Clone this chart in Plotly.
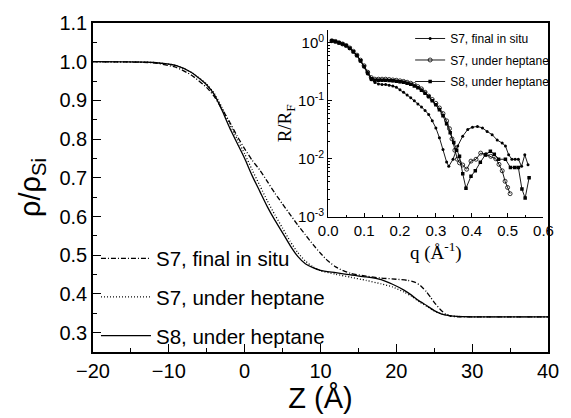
import plotly.graph_objects as go

# ---- density profiles (main panel) ----
z_s7_final = [-20, -12, -9, -7, -5, -4, -3, -2, -1, 0, 1, 2, 3, 4, 5, 6, 7, 8, 9, 10, 11, 12, 13, 14,
              16, 18, 20, 21.5, 22.5, 23.2, 24, 24.5, 25, 25.8, 26.5, 27.1, 28, 30, 40]
rho_s7_final = [1.0, 0.997, 0.985, 0.965, 0.933, 0.91, 0.878, 0.845, 0.808, 0.775, 0.745, 0.72, 0.69,
                0.66, 0.632, 0.605, 0.578, 0.553, 0.528, 0.505, 0.485, 0.47, 0.46, 0.453, 0.446, 0.441,
                0.438, 0.435, 0.43, 0.421, 0.405, 0.392, 0.378, 0.36, 0.348, 0.343, 0.341, 0.341, 0.341]

z_s7_hept = [-20, -12, -9, -7, -5, -4, -3, -2, -1, 0, 1, 2, 3, 4, 5, 6, 7, 8, 9, 10, 12, 14, 16, 18,
             19.5, 21, 22, 23, 24, 25, 26, 27, 28, 30, 40]
rho_s7_hept = [1.0, 0.998, 0.99, 0.972, 0.942, 0.918, 0.882, 0.84, 0.80, 0.762, 0.72, 0.68, 0.64,
               0.604, 0.57, 0.536, 0.507, 0.485, 0.47, 0.46, 0.451, 0.443, 0.435, 0.426, 0.418, 0.405,
               0.394, 0.38, 0.368, 0.356, 0.348, 0.344, 0.342, 0.341, 0.341]

z_s8_hept = [-20, -12, -9, -7, -5, -4, -3, -2, -1, 0, 1, 2, 3, 4, 5, 6, 7, 8, 9, 10, 12, 14, 16, 18,
             19.5, 21, 22, 23, 24, 25, 26, 27, 28, 30, 40]
rho_s8_hept = [1.0, 0.998, 0.99, 0.972, 0.94, 0.915, 0.875, 0.83, 0.79, 0.75, 0.705, 0.665, 0.625,
               0.59, 0.558, 0.525, 0.497, 0.478, 0.468, 0.461, 0.455, 0.449, 0.444, 0.437, 0.425,
               0.41, 0.397, 0.382, 0.37, 0.357, 0.348, 0.344, 0.342, 0.341, 0.341]

# ---- normalised reflectivity (inset) ----
q_s7_final = [0.01, 0.02, 0.03, 0.04, 0.05, 0.06, 0.07, 0.08, 0.09, 0.10, 0.11, 0.12, 0.13, 0.14,
              0.15, 0.16, 0.17, 0.18, 0.19, 0.20, 0.21, 0.22, 0.23, 0.24, 0.25, 0.26, 0.27, 0.28,
              0.29, 0.30, 0.31, 0.32, 0.33, 0.336, 0.348, 0.361, 0.375, 0.389, 0.402, 0.416, 0.43,
              0.443, 0.457, 0.471, 0.485, 0.494, 0.503, 0.512, 0.521, 0.53, 0.539, 0.548, 0.557]
r_s7_final = [1.08, 1.05, 1.0, 0.95, 0.89, 0.80, 0.70, 0.60, 0.48, 0.38, 0.29, 0.23, 0.205, 0.195,
              0.19, 0.19, 0.185, 0.18, 0.17, 0.155, 0.14, 0.125, 0.112, 0.10, 0.088, 0.078, 0.068,
              0.058, 0.045, 0.034, 0.023, 0.0145, 0.0088, 0.0074, 0.0098, 0.0166, 0.0245, 0.032,
              0.035, 0.036, 0.034, 0.0295, 0.026, 0.021, 0.0186, 0.0166, 0.0117, 0.0098, 0.0098,
              0.0098, 0.0074, 0.0117, 0.0079]

q_s7_hept = [0.01, 0.02, 0.03, 0.04, 0.05, 0.06, 0.07, 0.08, 0.09, 0.10, 0.11, 0.12, 0.13, 0.14,
             0.15, 0.16, 0.17, 0.18, 0.19, 0.20, 0.21, 0.22, 0.23, 0.24, 0.25, 0.26, 0.27, 0.28,
             0.29, 0.30, 0.31, 0.32, 0.33, 0.338, 0.345, 0.353, 0.36, 0.366, 0.375, 0.386, 0.398,
             0.412, 0.425, 0.44, 0.453, 0.467, 0.476, 0.485, 0.493, 0.50, 0.507]
r_s7_hept = [1.08, 1.05, 1.0, 0.95, 0.89, 0.81, 0.71, 0.61, 0.50, 0.40, 0.31, 0.25, 0.235, 0.235,
             0.235, 0.235, 0.232, 0.228, 0.225, 0.22, 0.215, 0.208, 0.20, 0.19, 0.175, 0.16, 0.14,
             0.12, 0.105, 0.09, 0.075, 0.06, 0.045, 0.033, 0.022, 0.014, 0.0098, 0.0085, 0.0078,
             0.0066, 0.0091, 0.0098, 0.0125, 0.0118, 0.011, 0.010, 0.008, 0.0062, 0.0041, 0.0032,
             0.0025]

q_s8_hept = [0.01, 0.02, 0.03, 0.04, 0.05, 0.06, 0.07, 0.08, 0.09, 0.10, 0.11, 0.12, 0.13, 0.14,
             0.15, 0.16, 0.17, 0.18, 0.19, 0.20, 0.21, 0.22, 0.23, 0.24, 0.25, 0.26, 0.27, 0.28,
             0.29, 0.30, 0.31, 0.32, 0.33, 0.34, 0.35, 0.358, 0.366, 0.375, 0.384, 0.398, 0.41,
             0.424, 0.438, 0.452, 0.463, 0.475, 0.494, 0.508, 0.52, 0.53, 0.54, 0.549, 0.56]
r_s8_hept = [1.08, 1.05, 1.0, 0.95, 0.89, 0.80, 0.70, 0.60, 0.49, 0.39, 0.30, 0.24, 0.225, 0.225,
             0.225, 0.225, 0.223, 0.22, 0.217, 0.213, 0.208, 0.20, 0.192, 0.18, 0.167, 0.152, 0.135,
             0.118, 0.10, 0.085, 0.07, 0.055, 0.04, 0.028, 0.019, 0.014, 0.011, 0.0055, 0.0031,
             0.005, 0.0062, 0.0087, 0.0117, 0.0135, 0.012, 0.0098, 0.0098, 0.0071, 0.0071, 0.0071,
             0.003, 0.0021, 0.0047]

# ---- axis ticks ----
main_x_ticks = [-20, -10, 0, 10, 20, 30, 40]
main_x_minor = [-15, -5, 5, 15, 25, 35]
main_y_ticks = [0.3, 0.4, 0.5, 0.6, 0.7, 0.8, 0.9, 1.0, 1.1]
main_y_labels = ["0.3", "0.4", "0.5", "0.6", "0.7", "0.8", "0.9", "1.0", "1.1"]
main_y_minor = [0.35, 0.45, 0.55, 0.65, 0.75, 0.85, 0.95, 1.05]
inset_x_ticks = [0.0, 0.1, 0.2, 0.3, 0.4, 0.5, 0.6]
inset_x_labels = ["0.0", "0.1", "0.2", "0.3", "0.4", "0.5", "0.6"]
inset_x_minor = [0.05, 0.15, 0.25, 0.35, 0.45, 0.55]
inset_y_ticks = [0.001, 0.01, 0.1, 1]
inset_y_labels = ["10<sup>-3</sup>", "10<sup>-2</sup>", "10<sup>-1</sup>", "10<sup>0</sup>"]
inset_y_minor = [0.002, 0.003, 0.004, 0.005, 0.006, 0.007, 0.008, 0.009,
                 0.02, 0.03, 0.04, 0.05, 0.06, 0.07, 0.08, 0.09,
                 0.2, 0.3, 0.4, 0.5, 0.6, 0.7, 0.8, 0.9]

SANS = "Liberation Sans, Arial, sans-serif"
SERIF = "Liberation Serif, Times New Roman, serif"

fig = go.Figure()

# main panel curves
profile_styles = [
    ("S7, final in situ", z_s7_final, rho_s7_final, "5px,2px,1px,2px"),
    ("S7, under heptane", z_s7_hept, rho_s7_hept, "1px,2px"),
    ("S8, under heptane", z_s8_hept, rho_s8_hept, "solid"),
]
for i, (name, zz, rr, dash) in enumerate(profile_styles):
    fig.add_trace(go.Scatter(
        x=zz, y=rr, mode="lines", name=name, legend="legend", legendgroup=f"p{i}",
        line=dict(color="black", width=1.3, dash=dash, shape="spline", smoothing=0.6),
        xaxis="x", yaxis="y"))

# inset curves
refl_styles = [
    ("S7, final in situ", q_s7_final, r_s7_final, dict(symbol="circle", size=3, color="black")),
    ("S7, under heptane", q_s7_hept, r_s7_hept,
     dict(symbol="circle-open", size=4, color="black", line=dict(width=0.8, color="black"))),
    ("S8, under heptane", q_s8_hept, r_s8_hept, dict(symbol="square", size=3.5, color="black")),
]
for i, (name, qq, rr, mk) in enumerate(refl_styles):
    fig.add_trace(go.Scatter(
        x=qq, y=rr, mode="lines+markers", name=name, legend="legend2", legendgroup=f"r{i}",
        line=dict(color="black", width=0.9), marker=mk,
        xaxis="x2", yaxis="y2"))

axis_common = dict(showline=True, linecolor="black", ticks="inside", tickcolor="black",
                   showgrid=False, zeroline=False)

fig.update_layout(
    width=571, height=418,
    margin=dict(l=93, r=15, t=23, b=64),
    paper_bgcolor="white", plot_bgcolor="white",
    font=dict(family=SANS, color="black"),
    xaxis=dict(**axis_common, range=[-20, 40], linewidth=1.6, mirror=True,
               tickvals=main_x_ticks, ticklen=8, tickwidth=1.3,
               minor=dict(tickvals=main_x_minor, ticks="inside", ticklen=4, tickcolor="black"),
               tickfont=dict(size=20, family=SANS),
               title=dict(text="Z (Å)", font=dict(size=29, family=SANS), standoff=4)),
    yaxis=dict(**axis_common, range=[0.25, 1.1], linewidth=1.6, mirror=True,
               tickvals=main_y_ticks, ticktext=main_y_labels, ticklen=8, tickwidth=1.3,
               minor=dict(tickvals=main_y_minor, ticks="inside", ticklen=4, tickcolor="black"),
               tickfont=dict(size=20, family=SANS),
               title=dict(text="ρ/ρ<sub>Si</sub>", font=dict(size=29, family=SANS), standoff=10)),
    xaxis2=dict(**axis_common, domain=[0.517, 0.99], anchor="y2", range=[0, 0.6],
                linewidth=1.2, tickvals=inset_x_ticks, ticktext=inset_x_labels,
                ticklen=4, tickwidth=1,
                minor=dict(tickvals=inset_x_minor, ticks="inside", ticklen=2, tickcolor="black"),
                tickfont=dict(size=15, family=SANS),
                title=dict(text="q (Å<sup>-1</sup>)", font=dict(size=19, family=SERIF), standoff=2)),
    yaxis2=dict(**axis_common, domain=[0.411, 0.979], anchor="x2", type="log", range=[-3, 0.22],
                linewidth=1.2, tickvals=inset_y_ticks, ticktext=inset_y_labels,
                ticklen=4, tickwidth=1,
                minor=dict(tickvals=inset_y_minor, ticks="inside", ticklen=2, tickcolor="black"),
                tickfont=dict(size=15, family=SANS),
                title=dict(text="R/R<sub>F</sub>", font=dict(size=19, family=SERIF), standoff=0)),
    legend=dict(x=0.0065, xanchor="left", y=0.345, yanchor="top", bgcolor="rgba(0,0,0,0)",
                font=dict(size=20.5, family=SANS), itemwidth=50, tracegroupgap=9,
                traceorder="grouped"),
    legend2=dict(x=0.697, xanchor="left", y=0.997, yanchor="top", bgcolor="rgba(0,0,0,0)",
                 font=dict(size=12, family=SANS), itemwidth=30, tracegroupgap=2.5,
                 traceorder="grouped"),
)

fig.write_html("out.html")
